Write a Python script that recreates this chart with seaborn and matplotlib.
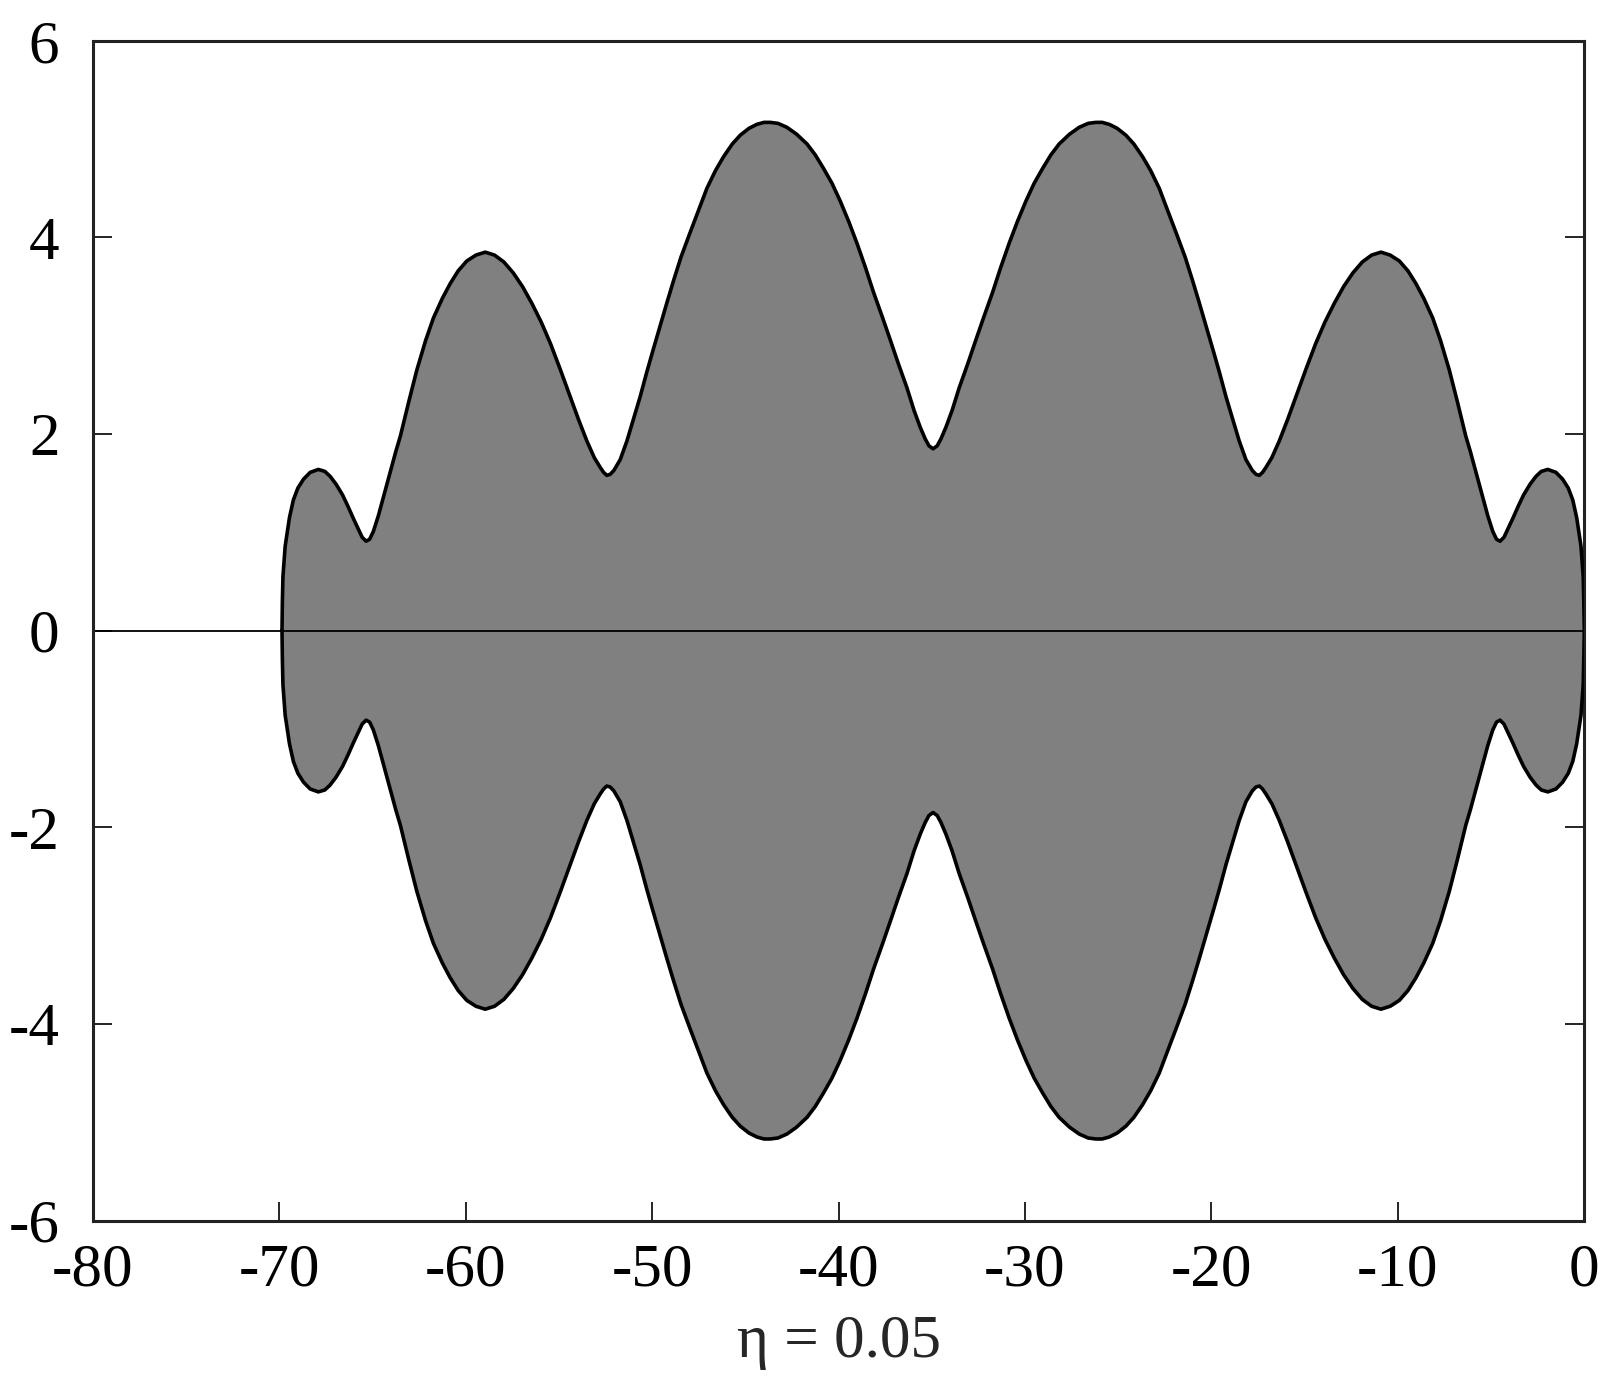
import matplotlib
matplotlib.use("Agg")
import matplotlib.pyplot as plt
import seaborn as sns
import pandas as pd

# Upper boundary, left half
x_left = [-69.85, -69.83, -69.80, -69.68, -69.45, -69.24, -69.00, -68.70, -68.34, -67.90,
          -67.55, -67.27, -66.95, -66.60, -66.30, -66.02, -65.75, -65.55, -65.34, -65.15,
          -64.95, -64.68, -64.35, -64.05, -63.75, -63.50, -63.05, -62.62, -62.15, -61.73,
          -61.25, -60.83, -60.40, -59.94, -59.45, -58.95, -58.45, -57.95, -57.45, -56.95,
          -56.45, -55.95, -55.45, -54.93, -54.45, -53.95, -53.50, -53.10, -52.78, -52.60,
          -52.43, -52.25, -52.05, -51.71, -51.35, -51.00, -50.64, -50.30, -50.00, -49.60,
          -49.20, -48.85, -48.45, -48.00, -47.50, -47.06, -46.60, -46.17, -45.70, -45.27,
          -44.80, -44.38, -44.00, -43.66, -43.25, -42.77, -42.25, -41.69, -41.25, -40.80,
          -40.35, -39.91, -39.45, -39.01, -38.55, -38.12, -37.65, -37.23, -36.80, -36.33,
          -35.95, -35.62, -35.35, -35.15, -34.93]
y_left = [0.00, 0.30, 0.55, 0.86, 1.15, 1.33, 1.45, 1.54, 1.61, 1.64,
          1.62, 1.57, 1.49, 1.38, 1.26, 1.14, 1.03, 0.95, 0.91, 0.93,
          1.01, 1.17, 1.40, 1.61, 1.82, 1.98, 2.33, 2.65, 2.95, 3.18,
          3.38, 3.53, 3.66, 3.76, 3.82, 3.85, 3.82, 3.75, 3.64, 3.50,
          3.33, 3.14, 2.92, 2.66, 2.41, 2.15, 1.93, 1.76, 1.66, 1.61,
          1.58, 1.59, 1.63, 1.74, 1.93, 2.15, 2.38, 2.62, 2.82, 3.08,
          3.34, 3.56, 3.80, 4.03, 4.28, 4.50, 4.68, 4.82, 4.95, 5.04,
          5.11, 5.15, 5.17, 5.17, 5.16, 5.12, 5.05, 4.95, 4.84, 4.70,
          4.55, 4.37, 4.16, 3.94, 3.69, 3.44, 3.19, 2.96, 2.72, 2.47,
          2.24, 2.07, 1.95, 1.88, 1.85]

# Upper boundary, right half
x_right = [-34.71, -34.51, -34.24, -33.91, -33.53, -33.06, -32.63, -32.21, -31.74, -31.31,
           -30.85, -30.41, -29.95, -29.51, -29.06, -28.61, -28.17, -27.61, -27.09, -26.61,
           -26.20, -25.86, -25.48, -25.06, -24.59, -24.16, -23.69, -23.26, -22.80, -22.36,
           -21.86, -21.41, -21.01, -20.66, -20.26, -19.86, -19.56, -19.22, -18.86, -18.51,
           -18.15, -17.81, -17.61, -17.43, -17.26, -17.08, -16.76, -16.36, -15.91, -15.41,
           -14.93, -14.41, -13.91, -13.41, -12.91, -12.41, -11.91, -11.41, -10.91, -10.41,
           -9.92, -9.46, -9.03, -8.61, -8.13, -7.71, -7.24, -6.81, -6.36, -6.11,
           -5.81, -5.51, -5.18, -4.91, -4.71, -4.52, -4.31, -4.11, -3.84, -3.56,
           -3.26, -2.91, -2.59, -2.31, -1.96, -1.52, -1.16, -0.86, -0.62, -0.41,
           -0.18, -0.06, -0.03, 0.00]
y_right = [1.88, 1.95, 2.07, 2.24, 2.47, 2.72, 2.96, 3.19, 3.44, 3.69,
           3.94, 4.16, 4.37, 4.55, 4.70, 4.84, 4.95, 5.05, 5.12, 5.16,
           5.17, 5.17, 5.15, 5.11, 5.04, 4.95, 4.82, 4.68, 4.50, 4.28,
           4.03, 3.80, 3.56, 3.34, 3.08, 2.82, 2.62, 2.38, 2.15, 1.93,
           1.74, 1.63, 1.59, 1.58, 1.61, 1.66, 1.76, 1.93, 2.15, 2.41,
           2.66, 2.92, 3.14, 3.33, 3.50, 3.64, 3.75, 3.82, 3.85, 3.82,
           3.76, 3.66, 3.53, 3.38, 3.18, 2.95, 2.65, 2.33, 1.98, 1.82,
           1.61, 1.40, 1.17, 1.01, 0.93, 0.91, 0.95, 1.03, 1.14, 1.26,
           1.38, 1.49, 1.57, 1.62, 1.64, 1.61, 1.54, 1.45, 1.33, 1.15,
           0.86, 0.55, 0.30, 0.00]

x_ticks = [-80, -70, -60, -50, -40, -30, -20, -10, 0]
y_ticks = [-6, -4, -2, 0, 2, 4, 6]
x_label = "η = 0.05"

upper_x = x_left + x_right
upper_y = y_left + y_right
# the region is mirror-symmetric about y = 0
outline = pd.DataFrame({
    "x": upper_x + upper_x[::-1],
    "y": upper_y + [-v for v in upper_y[::-1]],
})

sns.set_style("white")
plt.rcParams["font.family"] = ["Liberation Serif", "DejaVu Serif"]
plt.rcParams["axes.unicode_minus"] = False

fig = plt.figure(figsize=(16.16, 13.82), dpi=100)
ax = fig.add_axes([0.0574, 0.1168, 0.9230, 0.8537])

ax.fill(outline["x"], outline["y"], color="#808080", lw=0, zorder=1)
ax.axhline(0, color="black", lw=1.3, zorder=2)
sns.lineplot(data=outline, x="x", y="y", sort=False, estimator=None,
             color="black", lw=2.6, ax=ax, zorder=3,
             solid_joinstyle="round", solid_capstyle="round")

ax.set_xlim(-80, 0)
ax.set_ylim(-6, 6)
ax.set_xticks(x_ticks)
ax.set_yticks(y_ticks)
ax.set_xticklabels([str(v) for v in x_ticks])
ax.set_yticklabels([str(v) for v in y_ticks])
ax.tick_params(axis="both", direction="in", length=14, width=1.2,
               left=True, bottom=True, top=False, right=True, colors="black")
ax.tick_params(axis="x", labelsize=44, pad=16)
ax.tick_params(axis="y", labelsize=44, pad=24)
for s in ax.spines.values():
    s.set_color("#222222")
    s.set_linewidth(2.2)
ax.set_xlabel(x_label, fontsize=44, labelpad=12)
ax.set_ylabel("")

fig.savefig("out.png", dpi=100, facecolor="white")
